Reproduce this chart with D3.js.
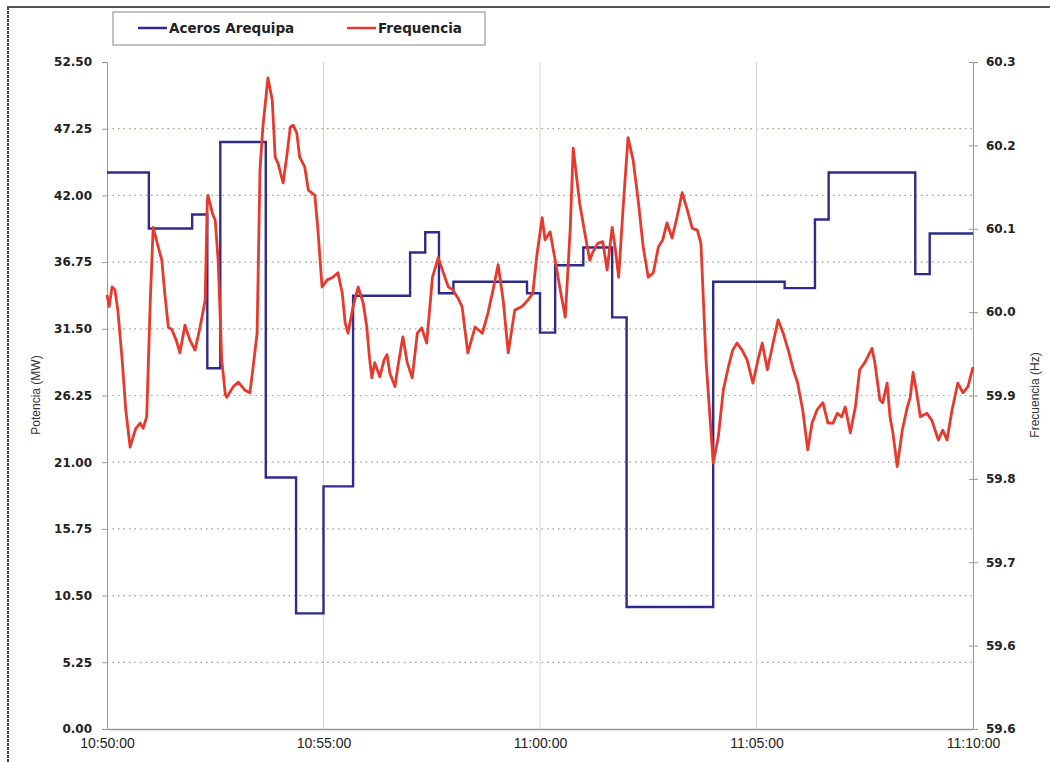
<html lang="en"><head>
<meta charset="utf-8">
<script src="https://d3js.org/d3.v7.min.js"></script>
<style>
  body { margin: 0; background: #fff; }
  .ytick { font: bold 12px "DejaVu Sans", sans-serif; fill: #222; }
  .xtick { font: 14px "Liberation Sans", Arial, sans-serif; fill: #222; }
  .atitle { font: 12px "Liberation Sans", Arial, sans-serif; fill: #333; }
  .legend text { font: bold 13.5px "DejaVu Sans", sans-serif; fill: #222; }
</style>
</head><body>
<div id="chart"></div>
<script>
// Aceros Arequipa power (MW), step changes: start time -> value
var powerTimes = ["10:50:00","10:50:58","10:51:58","10:52:19","10:52:37","10:53:40","10:54:22","10:55:00",
  "10:55:41","10:57:00","10:57:21","10:57:40","10:58:00","10:59:42","11:00:00","11:00:21","11:01:00",
  "11:01:40","11:02:00","11:04:00","11:05:39","11:06:21","11:06:40","11:08:40","11:09:00","11:10:00"];
var powerValues = [43.8,39.4,40.5,28.4,46.2,19.8,9.1,19.1,34.1,37.5,39.1,34.3,35.2,34.3,31.2,36.5,37.9,
  32.4,9.6,35.2,34.7,40.1,43.8,35.8,39.0,39.0];

// Frequency (Hz): [seconds after 10:50:00, Hz]
var freqSeries = [[0,60.038],[3,60.025],[7,60.047],[11,60.044],[15,60.021],[21,59.965],[26,59.909],
  [32,59.867],[36,59.878],[40,59.888],[46,59.894],[50,59.888],[55,59.901],[60,60.032],[64,60.114],
  [71,60.092],[76,60.077],[80,60.040],[85,60.002],[90,59.999],[96,59.987],[101,59.973],[108,60.004],
  [115,59.987],[122,59.976],[129,60.002],[136,60.032],[139,60.145],[140,60.150],[146,60.130],[150,60.122],
  [154,60.077],[159,59.965],[164,59.926],[166,59.923],[175,59.935],[182,59.940],[191,59.931],[198,59.928],
  [202,59.954],[208,59.995],[212,60.179],[216,60.227],[223,60.282],[229,60.257],[233,60.193],[237,60.186],
  [244,60.164],[249,60.193],[254,60.227],[258,60.229],[263,60.220],[267,60.193],[274,60.182],[279,60.156],
  [288,60.150],[292,60.114],[298,60.047],[305,60.055],[313,60.058],[320,60.063],[326,60.040],[330,60.007],
  [334,59.995],[341,60.025],[348,60.047],[355,60.029],[360,60.002],[364,59.965],[367,59.945],[371,59.962],
  [378,59.946],[384,59.965],[388,59.971],[392,59.950],[399,59.935],[403,59.957],[410,59.991],[416,59.962],
  [423,59.945],[430,59.995],[436,60.001],[443,59.984],[451,60.058],[459,60.080],[466,60.063],[473,60.047],
  [479,60.044],[486,60.035],[492,60.025],[500,59.973],[510,60.002],[520,59.995],[528,60.018],[535,60.044],
  [542,60.072],[549,60.032],[556,59.973],[565,60.021],[575,60.025],[583,60.032],[590,60.040],[596,60.085],
  [603,60.125],[607,60.100],[614,60.109],[621,60.077],[628,60.044],[635,60.013],[642,60.114],[646,60.203],
  [655,60.141],[662,60.108],[669,60.077],[673,60.086],[680,60.096],[687,60.098],[693,60.066],[700,60.114],
  [704,60.092],[709,60.058],[715,60.134],[722,60.215],[729,60.190],[736,60.145],[743,60.092],[750,60.058],
  [757,60.063],[764,60.092],[770,60.100],[776,60.119],[783,60.102],[790,60.126],[797,60.153],[804,60.134],
  [811,60.113],[818,60.111],[823,60.096],[830,59.965],[840,59.849],[847,59.878],[854,59.931],[861,59.957],
  [867,59.976],[873,59.984],[880,59.976],[887,59.965],[895,59.939],[902,59.965],[908,59.984],[915,59.954],
  [923,59.984],[930,60.010],[937,59.995],[944,59.976],[951,59.954],[957,59.939],[964,59.909],[971,59.864],
  [977,59.894],[984,59.909],[992,59.917],[999,59.894],[1006,59.894],[1012,59.905],[1018,59.901],[1023,59.912],
  [1030,59.883],[1037,59.912],[1043,59.954],[1050,59.962],[1060,59.978],[1064,59.962],[1071,59.920],
  [1075,59.917],[1081,59.939],[1085,59.901],[1089,59.883],[1095,59.845],[1102,59.886],[1109,59.912],
  [1113,59.923],[1117,59.951],[1122,59.928],[1127,59.901],[1136,59.905],[1143,59.897],[1152,59.875],
  [1158,59.886],[1164,59.875],[1171,59.909],[1179,59.939],[1186,59.928],[1193,59.935],[1200,59.957]];

var timeTicks = ["10:50:00","10:55:00","11:00:00","11:05:00","11:10:00"];
var freqTickLabels = ["59.6","59.6","59.7","59.8","59.9","60.0","60.1","60.2","60.3"];

var W = 1050, H = 762;
var margin = { top: 62, right: 77, bottom: 33, left: 107 };
var parseT = d3.timeParse("%H:%M:%S");
var t0 = parseT("10:50:00");

var svg = d3.select("#chart").append("svg")
    .attr("width", W).attr("height", H);

var x = d3.scaleTime()
    .domain([t0, parseT("11:10:00")])
    .range([margin.left, W - margin.right]);
var y = d3.scaleLinear().domain([0, 52.5]).range([H - margin.bottom, margin.top]);
var y2 = d3.scaleLinear().domain([59.55, 60.3]).range([H - margin.bottom, margin.top]);

// outer frame (top and left edges visible)
svg.append("line").attr("x1", 7).attr("x2", W).attr("y1", 7).attr("y2", 7)
    .attr("stroke", "#555").attr("stroke-width", 2);
svg.append("line").attr("x1", 8).attr("x2", 8).attr("y1", 7).attr("y2", H)
    .attr("stroke", "#444").attr("stroke-width", 2).attr("stroke-dasharray", "3,1");

// grid
var yTicks = d3.range(0, 52.51, 5.25);
svg.append("g").selectAll("line").data(yTicks.filter(d => d > 0 && d < 52.5)).join("line")
    .attr("x1", margin.left).attr("x2", W - margin.right)
    .attr("y1", d => y(d)).attr("y2", d => y(d))
    .attr("stroke", "#a3a388").attr("stroke-width", 1.2).attr("stroke-dasharray", "1.5,4");
svg.append("g").selectAll("line").data(timeTicks.slice(1, -1).map(parseT)).join("line")
    .attr("x1", d => x(d)).attr("x2", d => x(d))
    .attr("y1", margin.top).attr("y2", H - margin.bottom)
    .attr("stroke", "#d4d4cc").attr("stroke-width", 1);

// left axis
var gy = svg.append("g").attr("transform", `translate(${margin.left},0)`)
    .call(d3.axisLeft(y).tickValues(yTicks).tickFormat(d3.format(".2f")).tickSize(5).tickPadding(10));
gy.select(".domain").attr("stroke", "#999");
gy.selectAll(".tick line").attr("stroke", "#999");
gy.selectAll(".tick text").attr("class", "ytick");

// right axis
var rTicks = d3.range(9).map(i => 59.55 + i * 0.09375);
var gy2 = svg.append("g").attr("transform", `translate(${W - margin.right},0)`)
    .call(d3.axisRight(y2).tickValues(rTicks).tickFormat((d, i) => freqTickLabels[i]).tickSize(5).tickPadding(8));
gy2.select(".domain").attr("stroke", "#999");
gy2.selectAll(".tick line").attr("stroke", "#999").attr("x1", -4);
gy2.selectAll(".tick text").attr("class", "ytick");

// bottom axis
var gx = svg.append("g").attr("transform", `translate(0,${H - margin.bottom})`)
    .call(d3.axisBottom(x).tickValues(timeTicks.map(parseT)).tickFormat(d3.timeFormat("%H:%M:%S"))
      .tickSize(0).tickPadding(9));
gx.select(".domain").attr("stroke", "#999").attr("stroke-width", 1.5);
gx.selectAll(".tick text").attr("class", "xtick");

// axis titles
svg.append("text").attr("class", "atitle").attr("text-anchor", "middle")
    .attr("transform", "translate(40,395) rotate(-90)").text("Potencia (MW)");
svg.append("text").attr("class", "atitle").attr("text-anchor", "middle")
    .attr("transform", "translate(1039,395) rotate(-90)").text("Frecuencia (Hz)");

// lines
var powerData = powerTimes.map((t, i) => ({ t: parseT(t), v: powerValues[i] }));
svg.append("path").datum(powerData)
    .attr("fill", "none").attr("stroke", "#2e2a8e").attr("stroke-width", 2.4)
    .attr("d", d3.line().curve(d3.curveStepAfter).x(d => x(d.t)).y(d => y(d.v)));

var freqData = freqSeries.map(d => ({ t: d3.timeSecond.offset(t0, d[0]), v: d[1] }));
svg.append("path").datum(freqData)
    .attr("fill", "none").attr("stroke", "#e8392c").attr("stroke-width", 2.8)
    .attr("stroke-linejoin", "round")
    .attr("d", d3.line().x(d => x(d.t)).y(d => y2(d.v)));

// legend
var lg = svg.append("g").attr("class", "legend");
lg.append("rect").attr("x", 113).attr("y", 12).attr("width", 372).attr("height", 33)
    .attr("fill", "#fff").attr("stroke", "#999").attr("stroke-width", 1.2);
var items = [{ name: "Aceros Arequipa", color: "#2e2a8e", x: 138 }, { name: "Frequencia", color: "#e8392c", x: 347 }];
items.forEach(function (it) {
    lg.append("line").attr("x1", it.x).attr("x2", it.x + 29).attr("y1", 28).attr("y2", 28)
        .attr("stroke", it.color).attr("stroke-width", 2.5);
    lg.append("text").attr("x", it.x + 31).attr("y", 33).text(it.name);
});
</script>
</body></html>
